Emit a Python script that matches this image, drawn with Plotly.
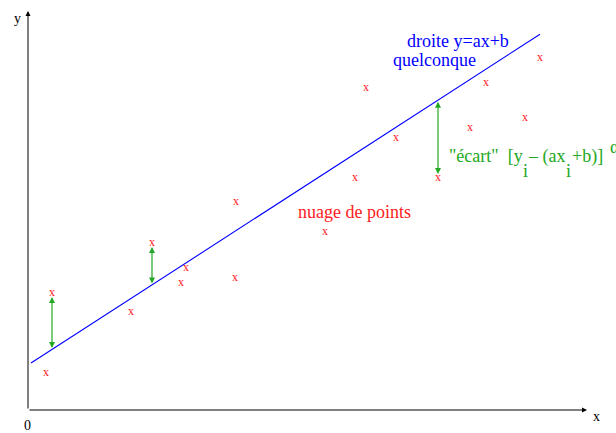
import plotly.graph_objects as go

# Scatter of observations (x_i, y_i)
pts_x = [18, 24, 103, 124, 158, 153, 208, 207, 297, 327, 338, 368, 410, 442, 458, 497, 512]
pts_y = [37, 117, 98, 167, 142, 127, 208, 132, 178, 232, 322, 272, 232, 282, 327, 292, 352]

# Arbitrary line y = a x + b
a = 0.646
b = 45.0
line_x = [3, 512]

# Observations whose deviation from the line is shown
gap_idx = [1, 3, 12]

W, H = 616, 433
X0, Y0 = 28, 410  # origin in pixels

line_y = [a * x + b for x in line_x]

serif = "Times New Roman, Liberation Serif, DejaVu Serif, serif"
green = "#22a822"
red = "#ff2020"
blue = "#0000ff"

fig = go.Figure()

fig.add_trace(go.Scatter(
    x=line_x, y=line_y, mode="lines",
    line=dict(color=blue, width=1.1),
    hoverinfo="skip", showlegend=False,
))

fig.add_trace(go.Scatter(
    x=pts_x, y=pts_y, mode="text", text=["x"] * len(pts_x),
    textposition="middle center",
    textfont=dict(family=serif, size=12, color=red),
    hoverinfo="skip", showlegend=False,
))

ann = []

# Axes with arrow tips
ann.append(dict(x=559, y=0, ax=0, ay=0, xref="x", yref="y", axref="x", ayref="y",
                showarrow=True, arrowhead=2, arrowsize=1, arrowwidth=1,
                arrowcolor="black", text="", standoff=0))
ann.append(dict(x=0, y=399, ax=0, ay=0, xref="x", yref="y", axref="x", ayref="y",
                showarrow=True, arrowhead=2, arrowsize=1, arrowwidth=1,
                arrowcolor="black", text="", standoff=0))

# Vertical deviations between points and the line
for i in gap_idx:
    px, py = pts_x[i], pts_y[i]
    ly = a * px + b
    ann.append(dict(x=px, y=py, ax=px, ay=ly, xref="x", yref="y", axref="x", ayref="y",
                    showarrow=True, arrowhead=2, arrowside="end+start",
                    arrowsize=1, arrowwidth=1.2, arrowcolor=green,
                    text="", standoff=4, startstandoff=0))

def label(txt, x, y, color, size=18, xanchor="center"):
    ann.append(dict(x=x, y=y, xref="x", yref="y", text=txt, showarrow=False,
                    xanchor=xanchor, yanchor="middle",
                    font=dict(family=serif, size=size, color=color)))

label("y", -11, 392, "black", 14)
label("x", 568, -6, "black", 14)
label("0", -1, -15, "black", 14)
label("droite y=ax+b", 430, 369, blue)
label("quelconque", 406, 350, blue)
label("nuage de points", 326, 198, red)

# Deviation formula, with the subscripts set lower on their own
label("\"écart\"  [y", 419, 254, green, xanchor="left")
label("i", 493, 239, green, xanchor="left")
label("– (ax", 498, 254, green, xanchor="left")
label("i", 536, 239, green, xanchor="left")
label("+b)]", 542, 254, green, xanchor="left")
label("α", 580, 263, green, xanchor="left")

fig.update_layout(
    width=W, height=H,
    margin=dict(l=0, r=0, t=0, b=0),
    paper_bgcolor="white", plot_bgcolor="white",
    xaxis=dict(range=[-X0, W - X0], visible=False, fixedrange=True),
    yaxis=dict(range=[Y0 - H, Y0], visible=False, fixedrange=True),
    annotations=ann,
    showlegend=False,
)

fig.write_html("out.html")
